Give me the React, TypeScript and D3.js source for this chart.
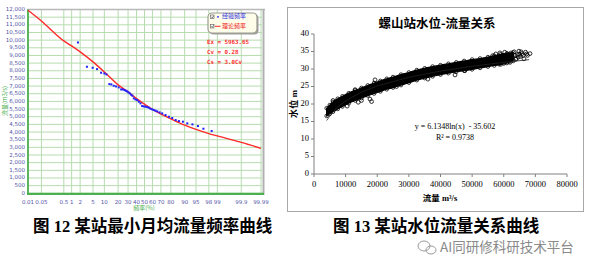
import React from "react";
import * as d3 from "d3";

// ---------- Left chart data (frequency curve) ----------
const probTicks = [0.01, 0.05, 0.5, 1, 2, 5, 10, 20, 30, 40, 50, 60, 70, 80, 90, 95, 98, 99, 99.9, 99.99];
const flowTicks = d3.range(0, 12001, 500);
const curveP = [0.01, 0.05, 0.5, 1, 2, 5, 10, 20, 30, 40, 50, 60, 70, 80, 90, 95, 98, 99, 99.9, 99.99];
const curveQ = [11950, 11250, 9950, 9620, 9230, 8580, 7920, 7080, 6620, 6180, 5820, 5470, 5170, 4860, 4450, 4170, 3900, 3750, 3320, 2935];
const empP = [1.68, 3.3, 4.9, 6.5, 8.3, 10, 11.2, 13.1, 14.5, 16.3, 18.2, 20.5, 22.8, 24.4, 26.1, 27.5, 29, 30.4, 31.9, 33.5, 35, 36.6, 38.7, 40.7, 42.8, 44.9, 47, 49.2, 51.3, 53.4, 55.5, 57.6, 59.7, 61.7, 63.8, 65.8, 68.5, 71.4, 74.9, 78.2, 81.2, 84, 86.4, 89, 91.4, 93.7, 95.6, 97, 98.4];
const empQ = [9848, 8261, 8196, 8109, 7870, 7826, 7761, 7130, 7109, 7022, 6978, 6913, 6783, 6783, 6739, 6696, 6652, 6587, 6522, 6435, 6370, 6196, 6130, 6087, 5978, 5870, 5696, 5674, 5652, 5630, 5587, 5522, 5478, 5435, 5391, 5348, 5283, 5217, 5109, 5000, 4913, 4783, 4717, 4674, 4565, 4500, 4391, 4217, 4065];
const legendLabels = ["经验频率", "理论频率"];
const statLines = ["Ex = 5963.65", "Cv = 0.28", "Cs = 3.0Cv"];

// ---------- Right chart data (stage-discharge) ----------
const stageTicks = [0, 5, 10, 15, 20, 25, 30, 35, 40];
const dischargeTicks = [0, 10000, 20000, 30000, 40000, 50000, 60000, 70000, 80000];
const bandQ = [4000, 5000, 6000, 7500, 9000, 11000, 13000, 15000, 17000, 19000, 21000, 23000, 25000, 27500, 30000, 32500, 35000, 37500, 40000, 42500, 45000, 47500, 50000, 52500, 55000, 57000, 59000, 61000, 63000];
const bandLow = [16.6, 17.2, 17.8, 18.6, 19.3, 20.2, 21.0, 21.7, 22.4, 23.0, 23.6, 24.2, 24.7, 25.4, 26.1, 26.8, 27.4, 27.9, 28.4, 28.8, 29.2, 29.5, 29.9, 30.3, 30.7, 31.0, 31.3, 31.7, 32.3];
const bandHigh = [18.8, 19.7, 20.6, 21.5, 22.2, 23.1, 23.9, 24.6, 25.3, 26.0, 26.6, 27.2, 27.7, 28.4, 29.0, 29.7, 30.2, 30.7, 31.1, 31.5, 31.9, 32.3, 32.7, 33.0, 33.4, 33.8, 34.2, 34.5, 34.7];
const looseQ = [56500, 57500, 58200, 58800, 59300, 59800, 60300, 60800, 61300, 61800, 62300, 62800, 63300, 63800, 64300, 64800, 65300, 65800, 66400, 66900, 67500, 68300, 60000, 62000, 58500, 57000, 64000, 61000, 59000, 65500, 63500, 64600, 66100, 67200, 65000, 14000, 15000, 17700, 18200, 19300, 13000, 6000, 47700, 44600, 26100, 10500, 36000];
const looseH = [33.8, 34.3, 33.2, 34.6, 32.5, 33.9, 34.8, 33.0, 34.2, 32.2, 34.6, 33.5, 34.9, 32.8, 34.1, 35.1, 33.6, 34.4, 32.9, 34.8, 33.9, 34.4, 31.6, 31.9, 31.4, 32.0, 33.0, 33.6, 32.8, 34.9, 33.9, 33.4, 33.9, 34.3, 34.2, 20.5, 21.0, 21.4, 20.7, 26.9, 24.1, 21.0, 29.5, 28.3, 25.0, 19.4, 27.1];
const trendCoef = [6.1348, -35.602];
const trendQ = [4000, 6000, 8000, 10000, 15000, 20000, 30000, 40000, 50000, 60000, 68000];

function normInv(p: number): number {
  const a = [-3.969683028665376e1, 2.209460984245205e2, -2.759285104469687e2, 1.38357751867269e2, -3.066479806614716e1, 2.506628277459239];
  const b = [-5.447609879822406e1, 1.615858368580409e2, -1.556989798598866e2, 6.680131188771972e1, -1.328068155288572e1];
  const c = [-7.784894002430293e-3, -3.223964580411365e-1, -2.400758277161838, -2.549671627203048, 4.374664141464968, 2.938163982698783];
  const d = [7.784695709041462e-3, 3.224671290700398e-1, 2.445134137142996, 3.754408661907416];
  const pl = 0.02425;
  if (p < pl) {
    const q = Math.sqrt(-2 * Math.log(p));
    return (((((c[0] * q + c[1]) * q + c[2]) * q + c[3]) * q + c[4]) * q + c[5]) / ((((d[0] * q + d[1]) * q + d[2]) * q + d[3]) * q + 1);
  }
  if (p <= 1 - pl) {
    const q = p - 0.5;
    const r = q * q;
    return ((((((a[0] * r + a[1]) * r + a[2]) * r + a[3]) * r + a[4]) * r + a[5]) * q) / (((((b[0] * r + b[1]) * r + b[2]) * r + b[3]) * r + b[4]) * r + 1);
  }
  const q = Math.sqrt(-2 * Math.log(1 - p));
  return -(((((c[0] * q + c[1]) * q + c[2]) * q + c[3]) * q + c[4]) * q + c[5]) / ((((d[0] * q + d[1]) * q + d[2]) * q + d[3]) * q + 1);
}

export default function App() {
  // Left scales
  const zScale = d3.scaleLinear().domain([normInv(0.0001), normInv(0.9999)]).range([28, 261]);
  const xL = (p: number) => zScale(normInv(p / 100));
  const yL = d3.scaleLinear().domain([0, 12000]).range([193.3, 9.5]);
  const fmt = d3.format(",");
  const curveLine = d3
    .line<number>()
    .x((_, i) => xL(curveP[i]))
    .y((v) => yL(v))
    .curve(d3.curveMonotoneX);

  // Right scales
  const xR = d3.scaleLinear().domain([0, 80000]).range([314, 567]);
  const yR = d3.scaleLinear().domain([0, 40]).range([174, 34]);
  const band = d3
    .area<number>()
    .x((q) => xR(q))
    .y0((_, i) => yR(bandLow[i]))
    .y1((_, i) => yR(bandHigh[i]))
    .curve(d3.curveMonotoneX);
  const trend = d3
    .line<number>()
    .x((q) => xR(q))
    .y((q) => yR(trendCoef[0] * Math.log(q) + trendCoef[1]));

  const blueTxt = "#5555a8";
  const green = "#4caf50";
  const gridC = "#b6dcae";
  const serif = "'Liberation Serif', 'Noto Sans CJK SC', serif";
  const cjk = "'Noto Sans CJK SC', sans-serif";

  return (
    <svg width={597} height={265} style={{ position: "absolute", left: 0, top: 0, background: "#fff" }}>
      {/* ===== Left chart ===== */}
      <g>
        {flowTicks.map((v) => (
          <line key={"h" + v} x1={28} x2={262} y1={yL(v)} y2={yL(v)} stroke={gridC} strokeWidth={1} />
        ))}
        {probTicks.map((p) => (
          <line key={"v" + p} x1={xL(p)} x2={xL(p)} y1={9.5} y2={193} stroke={gridC} strokeWidth={1} />
        ))}
        <line x1={27} x2={265} y1={9.5} y2={9.5} stroke="#b8b8b8" strokeWidth={1.5} />
        <line x1={263.5} x2={263.5} y1={9} y2={195} stroke="#b0b0b0" strokeWidth={2} />
        <line x1={28} x2={28} y1={9.5} y2={194.5} stroke={green} strokeWidth={1.8} />
        <line x1={27} x2={264} y1={193.8} y2={193.8} stroke={green} strokeWidth={2.2} />
        {flowTicks.map((v) => (
          <text key={"yl" + v} x={25} y={yL(v)} fontSize={5.5} fill={blueTxt} textAnchor="end" dominantBaseline="middle" fontFamily="'DejaVu Sans', sans-serif">
            {fmt(v)}
          </text>
        ))}
        {probTicks.map((p) => (
          <text key={"xl" + p} x={xL(p)} y={202} fontSize={5.5} fill={blueTxt} textAnchor="middle" dominantBaseline="middle" fontFamily="'DejaVu Sans', sans-serif">
            {String(p)}
          </text>
        ))}
        <text x={144} y={208.5} fontSize={6} fill={green} textAnchor="middle" dominantBaseline="middle" fontFamily={cjk}>
          频率(%)
        </text>
        <text transform="translate(5,101) rotate(-90)" fontSize={6} fill={green} textAnchor="middle" dominantBaseline="middle" fontFamily={cjk}>
          流量(m3/s)
        </text>
        <path d={curveLine(curveQ) || ""} fill="none" stroke="#ff2a2a" strokeWidth={1.4} />
        {empP.map((p, i) => (
          <rect key={"e" + i} x={xL(p) - 1} y={yL(empQ[i]) - 1} width={2} height={2} fill="#1f1fff" />
        ))}
        {/* legend */}
        <rect x={209.5} y={14.5} width={49} height={20} rx={4} fill="#a0a0a0" />
        <rect x={208} y={13} width={49} height={20} rx={4} fill="#fdfdea" stroke="#9c9c90" strokeWidth={1.2} />
        {[0, 1].map((i) => (
          <g key={"lg" + i}>
            <rect x={210.5} y={15 + i * 9.5} width={3.5} height={3.5} fill="#fff" stroke="#555" strokeWidth={0.6} />
            <path d={`M211.2,${16.8 + i * 9.5} l1,1 l1.5,-2`} fill="none" stroke="#222" strokeWidth={0.6} />
          </g>
        ))}
        <circle cx={218} cy={16.8} r={0.9} fill="#2020ff" />
        <line x1={215} x2={220.5} y1={26.3} y2={26.3} stroke="#ff2a2a" strokeWidth={1} />
        <text x={222} y={16.8} fontSize={6} fill="#3030e0" dominantBaseline="middle" fontFamily={cjk}>
          {legendLabels[0]}
        </text>
        <text x={222} y={26.3} fontSize={6} fill="#ee2222" dominantBaseline="middle" fontFamily={cjk}>
          {legendLabels[1]}
        </text>
        {statLines.map((s, i) => (
          <text key={"st" + i} x={207} y={42.5 + i * 10} fontSize={5.8} fontWeight="bold" fill="#ff3030" dominantBaseline="middle" fontFamily="'DejaVu Sans Mono', monospace" xmlSpace="preserve">
            {s}
          </text>
        ))}
      </g>

      {/* ===== Right chart ===== */}
      <g>
        <rect x={287.5} y={7.5} width={296} height={204} fill="#fff" stroke="#a8a8a8" strokeWidth={1} />
        <text x={437} y={25} fontSize={12.5} fontWeight="bold" textAnchor="middle" dominantBaseline="middle" fontFamily={cjk}>
          螺山站水位-流量关系
        </text>
        <line x1={314} x2={314} y1={34} y2={174} stroke="#808080" strokeWidth={1} />
        <line x1={314} x2={567} y1={174} y2={174} stroke="#808080" strokeWidth={1} />
        {stageTicks.map((v) => (
          <g key={"sy" + v}>
            <line x1={311} x2={314} y1={yR(v)} y2={yR(v)} stroke="#808080" />
            <text x={309} y={yR(v)} fontSize={8.5} textAnchor="end" dominantBaseline="middle" fontFamily={serif}>
              {v}
            </text>
          </g>
        ))}
        {dischargeTicks.map((v) => (
          <g key={"sx" + v}>
            <line x1={xR(v)} x2={xR(v)} y1={174} y2={177} stroke="#808080" />
            <text x={xR(v)} y={185} fontSize={8.5} textAnchor="middle" dominantBaseline="middle" fontFamily={serif}>
              {v}
            </text>
          </g>
        ))}
        <path d={band(bandQ) || ""} fill="#000" stroke="#000" strokeWidth={1.2} />
        {bandQ.map((q, i) => (
          <g key={"bc" + i}>
            <circle cx={xR(q)} cy={yR(bandHigh[i])} r={1.8} fill="none" stroke="#000" strokeWidth={0.8} />
            <circle cx={xR(q)} cy={yR(bandLow[i])} r={1.8} fill="none" stroke="#000" strokeWidth={0.8} />
          </g>
        ))}
        {looseQ.map((q, i) => (
          <circle key={"lo" + i} cx={xR(q)} cy={yR(looseH[i])} r={1.9} fill="none" stroke="#000" strokeWidth={0.8} />
        ))}
        <path d={trend(trendQ) || ""} fill="none" stroke="#222" strokeWidth={0.8} />
        <text x={455} y={127} fontSize={8} textAnchor="middle" dominantBaseline="middle" fontFamily={serif} xmlSpace="preserve">
          {"y = 6.1348ln(x)  - 35.602"}
        </text>
        <text x={455} y={138.5} fontSize={8} textAnchor="middle" dominantBaseline="middle" fontFamily={serif}>
          R² = 0.9738
        </text>
        <text x={440} y={199} fontSize={8.5} fontWeight="bold" textAnchor="middle" dominantBaseline="middle" fontFamily={serif}>
          流量 m³/s
        </text>
        <text transform="translate(295,104) rotate(-90)" fontSize={9} fontWeight="bold" textAnchor="middle" dominantBaseline="middle" fontFamily={serif}>
          水位 m
        </text>
      </g>

      {/* ===== Captions ===== */}
      <text x={33} y={228} fontSize={16.5} fontWeight="bold" dominantBaseline="middle" fontFamily={serif}>
        图 12 某站最小月均流量频率曲线
      </text>
      <text x={333} y={228} fontSize={16.5} fontWeight="bold" dominantBaseline="middle" fontFamily={serif}>
        图 13 某站水位流量关系曲线
      </text>
      {/* watermark */}
      <g stroke="#9a9a9a" fill="none" strokeWidth={1}>
        <ellipse cx={424} cy={246} rx={6} ry={5} />
        <ellipse cx={431} cy={250} rx={5} ry={4} />
      </g>
      <text x={440} y={248.5} fontSize={13.5} fill="#8a8a8a" dominantBaseline="middle" fontFamily={cjk}>
        AI同研修科研技术平台
      </text>
    </svg>
  );
}
